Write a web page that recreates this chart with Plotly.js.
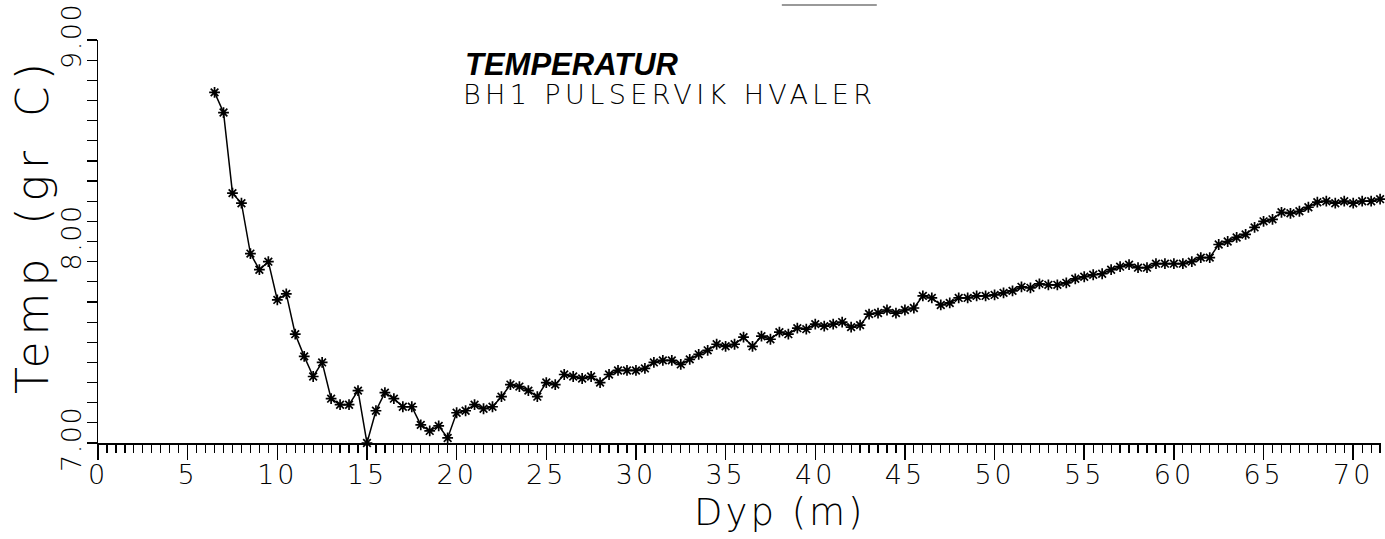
<!DOCTYPE html>
<html>
<head>
<meta charset="utf-8">
<script src="https://cdn.plot.ly/plotly-3.0.1.min.js"></script>
<style>
  html, body { margin: 0; padding: 0; background: #fff; }
  #chart { width: 1385px; height: 539px; }
</style>
</head>
<body>
<div id="chart"></div>
<script>
// Depth (m)
const depth = [
  6.5, 7, 7.5, 8, 8.5, 9, 9.5, 10, 10.5, 11, 11.5, 12, 12.5, 13, 13.5, 14, 14.5, 15, 15.5, 16,
  16.5, 17, 17.5, 18, 18.5, 19, 19.5, 20, 20.5, 21, 21.5, 22, 22.5, 23, 23.5, 24, 24.5, 25, 25.5, 26,
  26.5, 27, 27.5, 28, 28.5, 29, 29.5, 30, 30.5, 31, 31.5, 32, 32.5, 33, 33.5, 34, 34.5, 35, 35.5, 36,
  36.5, 37, 37.5, 38, 38.5, 39, 39.5, 40, 40.5, 41, 41.5, 42, 42.5, 43, 43.5, 44, 44.5, 45, 45.5, 46,
  46.5, 47, 47.5, 48, 48.5, 49, 49.5, 50, 50.5, 51, 51.5, 52, 52.5, 53, 53.5, 54, 54.5, 55, 55.5, 56,
  56.5, 57, 57.5, 58, 58.5, 59, 59.5, 60, 60.5, 61, 61.5, 62, 62.5, 63, 63.5, 64, 64.5, 65, 65.5, 66,
  66.5, 67, 67.5, 68, 68.5, 69, 69.5, 70, 70.5, 71, 71.5
];
// Temperature (gr C)
const temperature = [
  8.74, 8.64, 8.24, 8.19, 7.94, 7.86, 7.90, 7.71, 7.74, 7.54, 7.43, 7.33, 7.40, 7.22, 7.19, 7.19, 7.26, 7.00, 7.16, 7.25,
  7.22, 7.18, 7.18, 7.09, 7.06, 7.085, 7.025, 7.15, 7.16, 7.19, 7.17, 7.18, 7.23, 7.29, 7.28, 7.26, 7.23, 7.30, 7.29, 7.34,
  7.33, 7.32, 7.33, 7.30, 7.34, 7.36, 7.36, 7.36, 7.37, 7.40, 7.41, 7.41, 7.39, 7.415, 7.44, 7.46, 7.49, 7.48, 7.49, 7.525,
  7.48, 7.53, 7.515, 7.55, 7.54, 7.57, 7.565, 7.59, 7.58, 7.59, 7.60, 7.575, 7.585, 7.64, 7.645, 7.66, 7.645, 7.66, 7.67, 7.73,
  7.72, 7.685, 7.695, 7.72, 7.72, 7.73, 7.73, 7.735, 7.745, 7.755, 7.775, 7.77, 7.79, 7.785, 7.785, 7.795, 7.815, 7.825, 7.835, 7.84,
  7.86, 7.875, 7.885, 7.87, 7.87, 7.89, 7.89, 7.89, 7.89, 7.90, 7.92, 7.92, 7.985, 8.00, 8.02, 8.035, 8.07, 8.10, 8.11, 8.145,
  8.14, 8.15, 8.17, 8.195, 8.20, 8.19, 8.20, 8.19, 8.20, 8.20, 8.21
];
// Tick labels
const xTickVals = [0, 5, 10, 15, 20, 25, 30, 35, 40, 45, 50, 55, 60, 65, 70];
const xTickText = ['0', '5', '10', '15', '20', '25', '30', '35', '40', '45', '50', '55', '60', '65', '70'];
const yTickVals = [7, 8, 9];
const yTickText = ['7.00', '8.00', '9.00'];
// Texts
const titleMain = 'TEMPERATUR';
const titleSub = 'BH1 PULSERVIK HVALER';
const xTitle = 'Dyp (m)';
const yTitle = 'Temp\u2002(gr\u2002C)';

const plotFont = 'DejaVu Sans, Liberation Sans, sans-serif';
const spaced = (t, px) => '<span style="letter-spacing:' + px + 'px">' + t + '</span>';

const trace = {
  x: depth,
  y: temperature,
  type: 'scatter',
  mode: 'lines+markers',
  line: { color: '#000', width: 1.5 },
  marker: { symbol: 'asterisk-open', size: 9, color: '#000', line: { color: '#000', width: 1.7 } },
  cliponaxis: false,
  hoverinfo: 'x+y'
};

const layout = {
  width: 1385,
  height: 539,
  margin: { l: 98, r: 4, t: 40, b: 96 },
  paper_bgcolor: '#fff',
  plot_bgcolor: '#fff',
  showlegend: false,
  xaxis: {
    range: [0, 71.55],
    showgrid: false,
    zeroline: false,
    showline: true,
    linecolor: '#000',
    linewidth: 2,
    ticks: 'outside',
    ticklen: 15,
    tickwidth: 1.5,
    tickcolor: '#000',
    tickmode: 'array',
    tickvals: xTickVals,
    ticktext: xTickText.map(t => spaced(t, 3)),
    ticklabelstandoff: -8,
    ticklabeloverflow: 'allow',
    tickfont: { family: plotFont, size: 27, color: '#000', weight: 200 },
    minor: { dtick: 0.5, tick0: 0, ticks: 'outside', ticklen: 8, tickwidth: 1.2, tickcolor: '#000', showgrid: false }
  },
  yaxis: {
    range: [7, 9],
    showgrid: false,
    zeroline: false,
    showline: true,
    linecolor: '#000',
    linewidth: 1.5,
    ticks: 'outside',
    ticklen: 10,
    tickwidth: 1.2,
    tickcolor: '#000',
    tickmode: 'array',
    tickvals: yTickVals,
    ticktext: yTickText.map(t => spaced(t, 1.5)),
    ticklabelstandoff: -5,
    ticklabeloverflow: 'allow',
    tickangle: -90,
    tickfont: { family: plotFont, size: 27, color: '#000', weight: 200 },
    minor: { dtick: 0.1, tick0: 7, ticks: 'outside', ticklen: 10, tickwidth: 1.2, tickcolor: '#000', showgrid: false }
  },
  annotations: [
    {
      text: '<b><i>' + titleMain + '</i></b>',
      xref: 'paper', yref: 'paper', x: 0.2845, y: 0.9385,
      xanchor: 'left', yanchor: 'middle', showarrow: false,
      font: { family: 'Liberation Sans, Arial, sans-serif', size: 31, color: '#000' }
    },
    {
      text: spaced(titleSub, 4.4),
      xref: 'paper', yref: 'paper', x: 0.4458, y: 0.8655,
      xanchor: 'center', yanchor: 'middle', showarrow: false,
      font: { family: plotFont, size: 27, color: '#000', weight: 200 }
    },
    {
      text: spaced(xTitle, 3),
      xref: 'paper', yref: 'paper', x: 0.5316, y: -0.172,
      xanchor: 'center', yanchor: 'middle', showarrow: false,
      font: { family: plotFont, size: 37, color: '#000', weight: 200 }
    },
    {
      text: spaced(yTitle, 6),
      xref: 'paper', yref: 'paper', x: -0.0507, y: 0.541,
      xanchor: 'center', yanchor: 'middle', showarrow: false, textangle: -90,
      font: { family: plotFont, size: 44, color: '#000', weight: 200 }
    }
  ],
  shapes: [
    { type: 'line', xref: 'paper', yref: 'paper', x0: 0.533, x1: 0.607, y0: 1.087, y1: 1.087,
      line: { color: '#777', width: 1.5 } }
  ]
};

Plotly.newPlot('chart', [trace], layout, { displayModeBar: false, staticPlot: true });
</script>
</body>
</html>
